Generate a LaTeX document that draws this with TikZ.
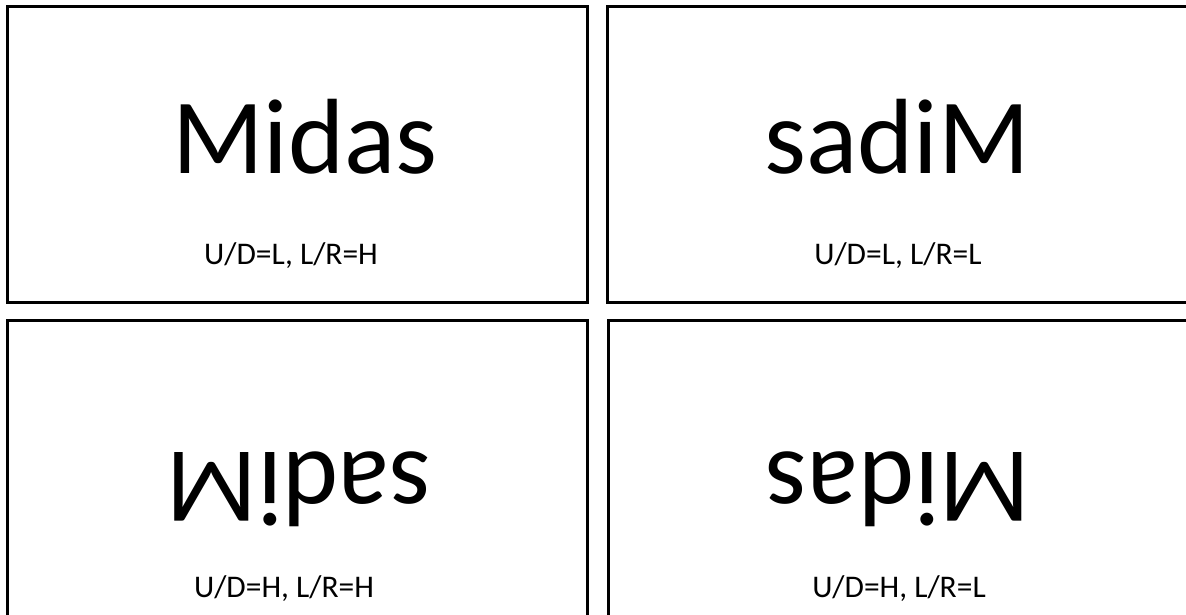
\documentclass[tikz,border=0pt]{standalone}
\usepackage{fontspec}
\setmainfont{Carlito}
\tikzset{card/.style={draw=black,line width=3pt},
 word/.style={font=\fontsize{107}{110}\selectfont,inner sep=0pt,anchor=base},
 tag/.style={font=\fontsize{31.5}{36}\selectfont,inner sep=0pt,anchor=base}}
\begin{document}
\begin{tikzpicture}[x=1pt,y=-1pt]
\useasboundingbox (0,0) rectangle (1186,614);
\draw[card](7,6)rectangle(587,302);\draw[card](607,6)rectangle(1192,302);
\draw[card](7,320)rectangle(587,620);\draw[card](608,320)rectangle(1192,620);
\node[word](w1)at(305,173){Midas};\node[tag](t1)at(291,264){U/D=L, L/R=H};
\node[word](w2)at(897,173){sadiM};\node[tag](t2)at(898,264){U/D=L, L/R=L};
\node[word,rotate=180](w3)at(299,452){sadiM};\node[tag](t3)at(284,597){U/D=H, L/R=H};
\node[word,rotate=180](w4)at(898,452){Midas};\node[tag](t4)at(899,597){U/D=H, L/R=L};
\end{tikzpicture}
\end{document}
